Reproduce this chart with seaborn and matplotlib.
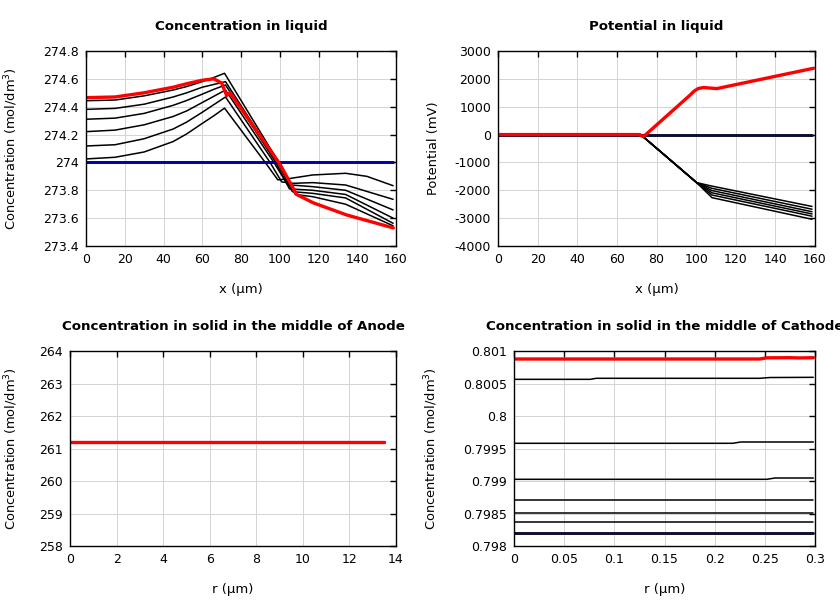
import seaborn as sns
import matplotlib.pyplot as plt
from matplotlib.ticker import FuncFormatter

sns.set_theme(style="white")
plt.rcParams['font.family'] = ['DejaVu Sans']
plt.rcParams['axes.unicode_minus'] = False
plt.rcParams['text.color'] = 'black'
plt.rcParams['axes.labelcolor'] = 'black'

# --- Concentration in liquid (x in um, mol/dm3) ---
liq_x = [
    [0, 15, 30, 45, 52, 60, 66, 71.5, 92.5, 99, 103, 117, 134, 145, 158.5],
    [0, 15, 30, 45, 52, 60, 66, 72, 95, 101, 107, 117, 134, 158.5],
    [0, 15, 30, 45, 52, 60, 66, 72, 97, 104, 117, 134, 158.5],
    [0, 15, 30, 45, 52, 60, 66, 72, 98, 105, 117, 134, 158.5],
    [0, 15, 30, 45, 52, 60, 66, 72, 99, 106.5, 117, 134, 158.5],
    [0, 15, 30, 45, 52, 60, 66, 71.5, 99.5, 108, 117, 134, 158.5],
]
liq_c = [
    [274.025, 274.037, 274.075, 274.15, 274.205, 274.28, 274.335, 274.39, 274.0, 273.875, 273.88, 273.91, 273.922, 273.90, 273.833],
    [274.118, 274.127, 274.17, 274.24, 274.29, 274.36, 274.415, 274.47, 274.0, 273.86, 273.85, 273.855, 273.838, 273.735],
    [274.221, 274.232, 274.27, 274.33, 274.37, 274.43, 274.475, 274.52, 274.0, 273.84, 273.826, 273.80, 273.659],
    [274.31, 274.318, 274.352, 274.41, 274.445, 274.49, 274.525, 274.556, 274.0, 273.81, 273.80, 273.77, 273.60],
    [274.381, 274.388, 274.418, 274.47, 274.5, 274.54, 274.56, 274.58, 274.0, 273.79, 273.778, 273.745, 273.563],
    [274.443, 274.448, 274.478, 274.52, 274.545, 274.58, 274.61, 274.64, 274.0, 273.77, 273.754, 273.70, 273.545],
]
liq_init_x = [0, 158.5]
liq_init_c = [274.0, 274.0]
liq_end_x = [0, 15, 30, 45, 52, 60, 66, 70, 72.6, 74.3, 100, 108.7, 117.3, 134.5, 158.6]
liq_end_c = [274.465, 274.47, 274.50, 274.54, 274.565, 274.59, 274.60, 274.57, 274.48, 274.50, 273.99, 273.77, 273.71, 273.623, 273.53]

# --- Potential in liquid (mV) ---
pot_x = [0, 72, 100.3, 108, 158.5]
pot_mid = [-1850, -1930, -2010, -2090, -2170, -2265]
pot_last = [-2580, -2680, -2770, -2850, -2930, -3040]
pot_init_x = [0, 158.5]
pot_init_v = [0, 0]
pot_end_x = [0, 71, 73.4, 97, 99, 101, 103.7, 107, 110.4, 159.2]
pot_end_v = [0, 0, -76, 1420, 1560, 1650, 1690, 1670, 1650, 2379]

# --- Solid, anode middle ---
an_r = [0, 13.5]
an_c = [261.2, 261.2]

# --- Solid, cathode middle ---
ca_x = [
    [0, 0.076, 0.082, 0.245, 0.255, 0.2983],
    [0, 0.218, 0.226, 0.2983],
    [0, 0.252, 0.26, 0.2983],
    [0, 0.2983],
    [0, 0.2983],
    [0, 0.2983],
]
ca_c = [
    [0.800564, 0.800564, 0.80058, 0.80058, 0.800592, 0.800595],
    [0.79958, 0.79958, 0.7996, 0.7996],
    [0.799026, 0.799026, 0.799046, 0.799046],
    [0.798708, 0.798708],
    [0.798503, 0.798503],
    [0.798364, 0.798364],
]
ca_init_x = [0, 0.2983]
ca_init_c = [0.798195, 0.798195]
ca_end_x = [0, 0.245, 0.252, 0.275, 0.285, 0.2983]
ca_end_c = [0.800877, 0.800877, 0.800895, 0.800897, 0.800893, 0.800897]

fig = plt.figure(figsize=(8.4, 6), dpi=100)
ax1 = fig.add_axes([86/840, 1-246/600, 310/840, 195/600])
ax2 = fig.add_axes([498/840, 1-246/600, 317/840, 195/600])
ax3 = fig.add_axes([70/840, 1-546/600, 326/840, 195/600])
ax4 = fig.add_axes([514/840, 1-546/600, 301/840, 195/600])

BLUE = '#0000a8'


def initial(ax, x, y):
    # black line with a blue core, like the t=0 curve
    sns.lineplot(x=x, y=y, ax=ax, color='black', linewidth=2.0)
    sns.lineplot(x=x, y=y, ax=ax, color=BLUE, linewidth=1.0)


def final(ax, x, y):
    sns.lineplot(x=x, y=y, ax=ax, color='red', linewidth=2.4)


# plot 1
for xs, cs in zip(liq_x, liq_c):
    sns.lineplot(x=xs, y=cs, ax=ax1, color='black', linewidth=1.1)
initial(ax1, liq_init_x, liq_init_c)
final(ax1, liq_end_x, liq_end_c)

# plot 2
for m, l in zip(pot_mid, pot_last):
    sns.lineplot(x=pot_x, y=[0, 0, -1727, m, l], ax=ax2, color='black', linewidth=1.1)
initial(ax2, pot_init_x, pot_init_v)
final(ax2, pot_end_x, pot_end_v)

# plot 3
for i in range(6):
    sns.lineplot(x=an_r, y=an_c, ax=ax3, color='black', linewidth=1.1)
initial(ax3, an_r, an_c)
final(ax3, an_r, an_c)

# plot 4
for xs, cs in zip(ca_x, ca_c):
    sns.lineplot(x=xs, y=cs, ax=ax4, color='black', linewidth=1.1)
initial(ax4, ca_init_x, ca_init_c)
final(ax4, ca_end_x, ca_end_c)

fmt = FuncFormatter(lambda v, p: '%g' % round(v, 6))
setup = [
    (ax1, 'Concentration in liquid', 'x (µm)', 'Concentration (mol/dm$^3$)',
     (0, 160), range(0, 161, 20), (273.4, 274.8), [273.4 + 0.2 * i for i in range(8)], -0.213),
    (ax2, 'Potential in liquid', 'x (µm)', 'Potential (mV)',
     (0, 160), range(0, 161, 20), (-4000, 3000), range(-4000, 3001, 1000), -0.183),
    (ax3, 'Concentration in solid in the middle of Anode', 'r (µm)', 'Concentration (mol/dm$^3$)',
     (0, 14), range(0, 15, 2), (258, 264), range(258, 265), -0.153),
    (ax4, 'Concentration in solid in the middle of Cathode', 'r (µm)', 'Concentration (mol/dm$^3$)',
     (0, 0.3), [0.05 * i for i in range(7)], (0.798, 0.801), [0.798 + 0.0005 * i for i in range(7)], -0.246),
]
for ax, title, xl, yl, xlim, xt, ylim, yt, ylx in setup:
    ax.set_xlim(*xlim)
    ax.set_ylim(*ylim)
    ax.set_xticks(list(xt))
    ax.set_yticks(list(yt))
    ax.xaxis.set_major_formatter(fmt)
    ax.yaxis.set_major_formatter(fmt)
    ax.set_title(title, fontsize=9.6, fontweight='bold', pad=15, color='black')
    ax.set_xlabel(xl, fontsize=9.5, labelpad=12)
    ax.set_ylabel(yl, fontsize=9.4)
    ax.yaxis.set_label_coords(ylx, 0.5)
    ax.grid(True, color='#d4d4d4', linewidth=0.7)
    ax.set_axisbelow(True)
    ax.tick_params(direction='in', length=4, width=1, top=True, right=True,
                   labelsize=9, colors='black', pad=5)
    for s in ax.spines.values():
        s.set_color('black')
        s.set_linewidth(1.0)

fig.savefig('out.png', dpi=100)
